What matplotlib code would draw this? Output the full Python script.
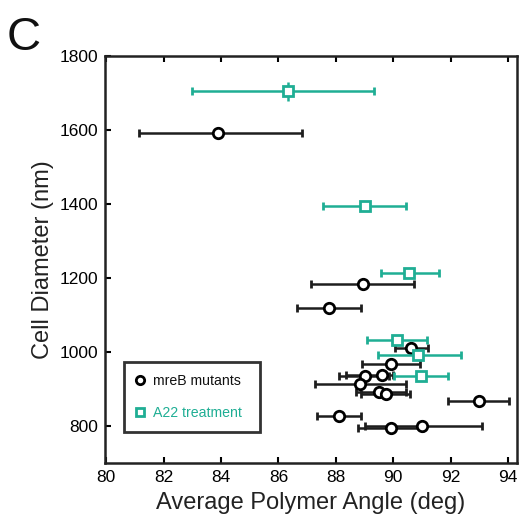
import matplotlib
matplotlib.use("Agg")
import matplotlib.pyplot as plt
from matplotlib.lines import Line2D

plt.rcParams['font.family'] = ['Liberation Sans', 'DejaVu Sans']

# mreB mutants (black circles)
mreb_angle = [83.90, 88.95, 87.76, 90.63, 89.93, 89.01, 89.60, 88.83, 89.50, 89.73, 92.97, 88.10, 89.93, 91.01]
mreb_diam = [1591, 1184, 1118, 1010, 967, 934, 938, 912, 892, 886, 868, 827, 795, 801]
mreb_lo = [81.15, 87.15, 86.65, 90.05, 88.92, 88.10, 88.35, 87.28, 88.69, 88.86, 91.92, 87.33, 88.78, 89.03]
mreb_hi = [86.83, 90.72, 88.86, 91.22, 90.93, 89.85, 90.00, 90.44, 90.43, 90.60, 94.03, 88.86, 91.05, 93.10]

# A22 treatment (green squares)
a22_angle = [86.33, 89.00, 90.55, 90.12, 90.86, 90.95]
a22_diam = [1704, 1395, 1212, 1033, 992, 936]
a22_lo = [82.99, 87.56, 89.59, 89.07, 89.47, 90.02]
a22_hi = [89.33, 90.43, 91.58, 91.19, 92.36, 91.90]
a22_yerr = [25, 9, 9, 6, 6, 6]

labels = ['mreB mutants', 'A22 treatment']
xticks = [80, 82, 84, 86, 88, 90, 92, 94]
yticks = [800, 1000, 1200, 1400, 1600, 1800]

black = '#1e1e1e'
green = '#1fae94'

fig = plt.figure(figsize=(5.23, 5.29), dpi=100)
ax = fig.add_axes([0.2002, 0.1248, 0.7878, 0.7699])

xerr_m = [[a - l for a, l in zip(mreb_angle, mreb_lo)], [h - a for a, h in zip(mreb_angle, mreb_hi)]]
xerr_a = [[a - l for a, l in zip(a22_angle, a22_lo)], [h - a for a, h in zip(a22_angle, a22_hi)]]

ax.errorbar(mreb_angle, mreb_diam, xerr=xerr_m, fmt='o', color=black, ecolor=black,
            elinewidth=1.8, capsize=3.2, capthick=1.8, ms=7.5, mfc='white', mec='black', mew=2.0, zorder=3)
ax.errorbar(a22_angle, a22_diam, yerr=a22_yerr, fmt='none', ecolor=green,
            elinewidth=1.8, capsize=0, zorder=4)
ax.errorbar(a22_angle, a22_diam, xerr=xerr_a, fmt='s', color=green, ecolor=green,
            elinewidth=1.8, capsize=3.0, capthick=1.8, ms=6.5, mfc='white', mec=green, mew=2.0, zorder=4)

ax.set_xlim(79.95, 94.3)
ax.set_ylim(700, 1800)
ax.set_xticks(xticks)
ax.set_yticks(yticks)
ax.tick_params(axis='x', direction='in', top=True, length=4, width=1.5, labelsize=12.5, pad=5)
ax.tick_params(axis='y', direction='in', right=False, length=4, width=1.5, labelsize=12.5, pad=5)
for s in ax.spines.values():
    s.set_linewidth(1.8)
    s.set_color('#222222')

ax.set_xlabel('Average Polymer Angle (deg)', fontsize=17, color='#222222', labelpad=5)
ax.set_ylabel('Cell Diameter (nm)', fontsize=17, color='#222222', labelpad=4)

handles = [Line2D([], [], ls='none', marker='o', ms=6, mfc='white', mec='black', mew=2.0),
           Line2D([], [], ls='none', marker='s', ms=5.5, mfc='white', mec=green, mew=2.0)]
leg = ax.legend(handles, labels, loc='lower left', bbox_to_anchor=(0.047, 0.077, 0.33, 0.164),
                mode='expand', fontsize=10.2, frameon=True, fancybox=False, handlelength=0.6,
                handletextpad=0.6, labelspacing=1.25, borderpad=0.85, borderaxespad=0)
leg.get_frame().set_edgecolor('black')
leg.get_frame().set_linewidth(2.0)
leg.get_texts()[0].set_color('#111111')
leg.get_texts()[1].set_color(green)

fig.text(0.013, 0.906, 'C', fontsize=34, color='#111111', ha='left', va='baseline')

fig.savefig('out.png', dpi=100)
